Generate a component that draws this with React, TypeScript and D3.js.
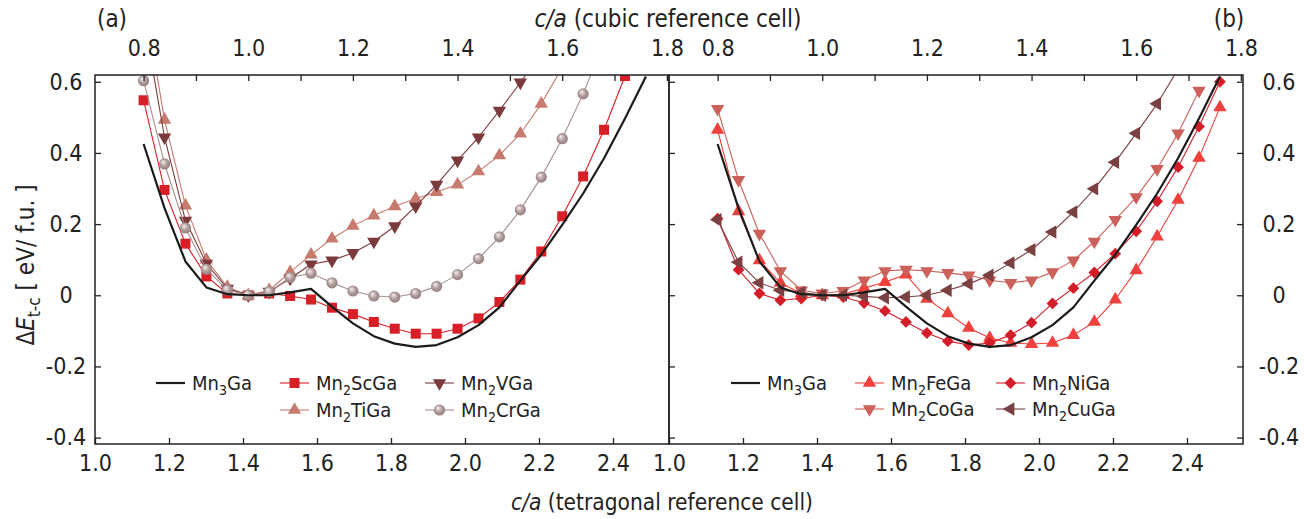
import React, { useRef, useEffect } from 'react';
import * as d3 from 'd3';

// c/a of the cubic reference cell at which each energy was computed
const cubicCA = [0.80, 0.84, 0.88, 0.92, 0.96, 1.00, 1.04, 1.08, 1.12, 1.16, 1.20, 1.24, 1.28,
  1.32, 1.36, 1.40, 1.44, 1.48, 1.52, 1.56, 1.60, 1.64, 1.68, 1.72, 1.76];

// ΔE_t-c in eV/f.u.
const mn3Ga = [0.425, 0.245, 0.095, 0.022, 0.003, 0.0, 0.0, 0.008, 0.018, -0.032, -0.079, -0.115, -0.136,
  -0.145, -0.140, -0.118, -0.084, -0.034, 0.041, 0.114, 0.198, 0.286, 0.385, 0.497, 0.615];
const mn2ScGa = [0.548, 0.296, 0.145, 0.053, 0.005, 0.0, 0.005, -0.002, -0.012, -0.035, -0.053, -0.075, -0.094,
  -0.108, -0.108, -0.094, -0.065, -0.019, 0.044, 0.123, 0.222, 0.334, 0.465, 0.616];
const mn2TiGa = [0.84, 0.493, 0.252, 0.10, 0.023, 0.0, 0.014, 0.065, 0.114, 0.159, 0.195, 0.224, 0.25,
  0.271, 0.29, 0.311, 0.348, 0.393, 0.454, 0.538, 0.64];
const mn2VGa = [0.78, 0.444, 0.21, 0.089, 0.019, 0.0, 0.01, 0.047, 0.087, 0.098, 0.119, 0.151, 0.194,
  0.25, 0.311, 0.379, 0.444, 0.519, 0.598, 0.68];
const mn2CrGa = [0.603, 0.369, 0.189, 0.073, 0.015, 0.0, 0.01, 0.05, 0.062, 0.035, 0.012, -0.002, -0.005,
  0.005, 0.025, 0.058, 0.103, 0.164, 0.24, 0.332, 0.44, 0.566, 0.71];
const mn2FeGa = [0.465, 0.236, 0.098, 0.035, 0.005, 0.0, 0.003, 0.02, 0.037, 0.058, -0.01, -0.051, -0.092,
  -0.12, -0.134, -0.137, -0.134, -0.112, -0.075, -0.012, 0.07, 0.165, 0.268, 0.386, 0.528];
const mn2CoGa = [0.524, 0.324, 0.173, 0.068, 0.014, 0.005, 0.012, 0.042, 0.068, 0.072, 0.068, 0.063, 0.056,
  0.042, 0.035, 0.042, 0.065, 0.098, 0.151, 0.212, 0.276, 0.355, 0.455, 0.575];
const mn2NiGa = [0.215, 0.072, 0.005, -0.014, -0.009, 0.0, -0.005, -0.022, -0.044, -0.075, -0.106, -0.129, -0.14,
  -0.134, -0.112, -0.077, -0.023, 0.02, 0.064, 0.117, 0.18, 0.264, 0.36, 0.474, 0.6];
const mn2CuGa = [0.212, 0.093, 0.035, 0.014, 0.008, 0.0, 0.0, -0.003, -0.007, -0.005, 0.0, 0.014, 0.032,
  0.056, 0.091, 0.128, 0.178, 0.234, 0.299, 0.374, 0.455, 0.538, 0.635];

const tetraTicks = [1.0, 1.2, 1.4, 1.6, 1.8, 2.0, 2.2, 2.4];
const cubicTicks = [0.8, 0.9, 1.0, 1.1, 1.2, 1.3, 1.4, 1.5, 1.6, 1.7, 1.8];
const yTicks = [-0.4, -0.2, 0, 0.2, 0.4, 0.6];

type Marker = 'none' | 'square' | 'up' | 'down' | 'left' | 'diamond' | 'sphere';

interface Series {
  label: [string, string, string];
  values: number[];
  color: string;
  marker: Marker;
}

const leftSeries: Series[] = [
  { label: ['Mn', '2', 'ScGa'], values: mn2ScGa, color: '#d81f27', marker: 'square' },
  { label: ['Mn', '2', 'TiGa'], values: mn2TiGa, color: '#c67b6e', marker: 'up' },
  { label: ['Mn', '2', 'VGa'], values: mn2VGa, color: '#7b3b3c', marker: 'down' },
  { label: ['Mn', '2', 'CrGa'], values: mn2CrGa, color: '#a68f8f', marker: 'sphere' },
];
const rightSeries: Series[] = [
  { label: ['Mn', '2', 'FeGa'], values: mn2FeGa, color: '#ee403c', marker: 'up' },
  { label: ['Mn', '2', 'CoGa'], values: mn2CoGa, color: '#cc615b', marker: 'down' },
  { label: ['Mn', '2', 'NiGa'], values: mn2NiGa, color: '#d31e29', marker: 'diamond' },
  { label: ['Mn', '2', 'CuGa'], values: mn2CuGa, color: '#7a4142', marker: 'left' },
];
const ref: Series = { label: ['Mn', '3', 'Ga'], values: mn3Ga, color: '#1b1b1b', marker: 'none' };

const W = 1304;
const H = 519;
const PT = 75;
const PB = 444;
const TETRA_MAX = 2.5514;
const FONT = "'Liberation Sans Narrow', 'Arial Narrow', 'DejaVu Sans Condensed', sans-serif";
const INK = '#222';

const App: React.FC = () => {
  const svgRef = useRef<SVGSVGElement>(null);

  useEffect(() => {
    if (!svgRef.current) return;
    const svg = d3.select(svgRef.current);
    svg.selectAll('*').remove();

    const defs = svg.append('defs');
    const grad = defs.append('radialGradient').attr('id', 'sphere').attr('cx', '50%').attr('cy', '50%')
      .attr('fx', '35%').attr('fy', '30%').attr('r', '60%');
    grad.append('stop').attr('offset', '0%').attr('stop-color', '#f6f1f1');
    grad.append('stop').attr('offset', '55%').attr('stop-color', '#ad9797');
    grad.append('stop').attr('offset', '100%').attr('stop-color', '#8c7676');

    const y = d3.scaleLinear().domain([-0.418, 0.619]).range([PB, PT]);
    const fmtY = (d: number) => (d === 0 ? '0' : d.toFixed(1));

    const drawMarker = (g: d3.Selection<SVGGElement, unknown, null, undefined>, m: Marker, color: string, cx: number, cy: number) => {
      if (m === 'none') return;
      if (m === 'square') {
        g.append('rect').attr('x', cx - 5).attr('y', cy - 5).attr('width', 10).attr('height', 10).attr('fill', color);
      } else if (m === 'sphere') {
        g.append('circle').attr('cx', cx).attr('cy', cy).attr('r', 5.6).attr('fill', 'url(#sphere)');
      } else if (m === 'diamond') {
        g.append('path').attr('d', d3.symbol(d3.symbolSquare, 70)()!)
          .attr('transform', `translate(${cx},${cy}) rotate(45)`).attr('fill', color);
      } else {
        const rot = m === 'up' ? 0 : m === 'down' ? 180 : -90;
        g.append('path').attr('d', d3.symbol(d3.symbolTriangle, 78)()!)
          .attr('transform', `translate(${cx},${cy}) rotate(${rot})`).attr('fill', color);
      }
    };

    const addLabel = (g: d3.Selection<SVGGElement, unknown, null, undefined>, x: number, yy: number, parts: [string, string, string]) => {
      const t = g.append('text').attr('x', x).attr('y', yy).attr('font-family', FONT).attr('font-size', 20).attr('fill', INK);
      t.append('tspan').text(parts[0]);
      t.append('tspan').attr('font-size', 14).attr('dy', 5).text(parts[1]);
      t.append('tspan').attr('dy', -5).text(parts[2]);
    };

    const panels = [
      { left: 95, right: 669, series: leftSeries, id: 'a' },
      { left: 669, right: 1243, series: rightSeries, id: 'b' },
    ];

    panels.forEach((p, pi) => {
      const xT = d3.scaleLinear().domain([1.0, TETRA_MAX]).range([p.left, p.right]);
      const xC = d3.scaleLinear().domain([1.0 / Math.SQRT2, TETRA_MAX / Math.SQRT2]).range([p.left, p.right]);

      defs.append('clipPath').attr('id', `clip-${p.id}`)
        .append('rect').attr('x', p.left).attr('y', PT).attr('width', p.right - p.left).attr('height', PB - PT);

      const plot = svg.append('g').attr('clip-path', `url(#clip-${p.id})`);
      const drawSeries = (s: Series) => {
        const pts: [number, number][] = s.values.map((v, i) => [xT(cubicCA[i] * Math.SQRT2), y(v)]);
        plot.append('path')
          .attr('d', d3.line()(pts)!)
          .attr('fill', 'none')
          .attr('stroke', s.color)
          .attr('stroke-width', s.marker === 'none' ? 2.2 : 1.1)
          .attr('stroke-linejoin', 'round');
        const mg = plot.append('g');
        pts.forEach(([px, py]) => drawMarker(mg, s.marker, s.color, px, py));
      };
      p.series.forEach(drawSeries);
      drawSeries(ref);

      // frame
      svg.append('rect').attr('x', p.left).attr('y', PT).attr('width', p.right - p.left).attr('height', PB - PT)
        .attr('fill', 'none').attr('stroke', INK).attr('stroke-width', 1.5);

      // bottom axis (tetragonal)
      const bottom = svg.append('g').attr('transform', `translate(0,${PB})`)
        .call(d3.axisBottom(xT).tickValues(tetraTicks).tickSizeInner(-6).tickSizeOuter(0).tickPadding(11)
          .tickFormat(d3.format('.1f')));
      bottom.select('.domain').remove();
      bottom.attr('font-family', FONT).attr('font-size', 23);
      bottom.selectAll('line').attr('stroke', INK).attr('stroke-width', 1.3);
      bottom.selectAll('text').attr('fill', INK);

      // top axis (cubic)
      const top = svg.append('g').attr('transform', `translate(0,${PT})`)
        .call(d3.axisTop(xC).tickValues(cubicTicks).tickSizeInner(-6).tickSizeOuter(0).tickPadding(19.5)
          .tickFormat((d) => (Math.round(+d * 10) % 2 === 0 ? (+d).toFixed(1) : '')));
      top.select('.domain').remove();
      top.attr('font-family', FONT).attr('font-size', 23);
      top.selectAll('line').attr('stroke', INK).attr('stroke-width', 1.3);
      top.selectAll('text').attr('fill', INK);

      // y axis ticks
      if (pi === 0) {
        const la = svg.append('g').attr('transform', `translate(${p.left},0)`)
          .call(d3.axisLeft(y).tickValues(yTicks).tickSizeInner(-6).tickSizeOuter(0).tickFormat((d) => fmtY(+d)));
        la.select('.domain').remove();
        la.attr('font-family', FONT).attr('font-size', 23);
        la.selectAll('line').attr('stroke', INK).attr('stroke-width', 1.3);
        la.selectAll('text').attr('fill', INK).attr('text-anchor', 'middle').attr('x', -29);
      } else {
        const li = svg.append('g').attr('transform', `translate(${p.left},0)`)
          .call(d3.axisRight(y).tickValues(yTicks).tickSize(6).tickFormat(() => ''));
        li.select('.domain').remove();
        li.selectAll('line').attr('stroke', INK).attr('stroke-width', 1.3);
        const ra = svg.append('g').attr('transform', `translate(${p.right},0)`)
          .call(d3.axisRight(y).tickValues(yTicks).tickSizeInner(-6).tickSizeOuter(0).tickFormat((d) => fmtY(+d)));
        ra.select('.domain').remove();
        ra.attr('font-family', FONT).attr('font-size', 23);
        ra.selectAll('line').attr('stroke', INK).attr('stroke-width', 1.3);
        ra.selectAll('text').attr('fill', INK).attr('text-anchor', 'middle').attr('x', 36);
      }
    });

    // legends
    const legend = svg.append('g');
    const legendItems: { s: Series; x: number; y: number }[] = [
      { s: ref, x: 156, y: 383 },
      { s: leftSeries[0], x: 280, y: 383 },
      { s: leftSeries[2], x: 425, y: 383 },
      { s: leftSeries[1], x: 280, y: 410 },
      { s: leftSeries[3], x: 425, y: 410 },
      { s: ref, x: 731, y: 383 },
      { s: rightSeries[0], x: 855, y: 383 },
      { s: rightSeries[2], x: 996, y: 383 },
      { s: rightSeries[1], x: 855, y: 409 },
      { s: rightSeries[3], x: 996, y: 409 },
    ];
    legendItems.forEach(({ s, x, y: ly }) => {
      legend.append('line').attr('x1', x).attr('x2', x + 29).attr('y1', ly).attr('y2', ly)
        .attr('stroke', s.color).attr('stroke-width', s.marker === 'none' ? 2.2 : 1.1);
      drawMarker(legend, s.marker, s.color, x + 14.5, ly);
      addLabel(legend, x + 36, ly + 7, s.label);
    });

    // titles
    const txt = (x: number, yy: number, anchor: string, size: number) =>
      svg.append('text').attr('x', x).attr('y', yy).attr('text-anchor', anchor)
        .attr('font-family', FONT).attr('font-size', size).attr('fill', INK);

    txt(112, 27, 'middle', 24).text('(a)');
    txt(1229, 27, 'middle', 24).text('(b)');

    const topTitle = txt(668, 27, 'middle', 24);
    topTitle.append('tspan').attr('font-style', 'italic').text('c/a');
    topTitle.append('tspan').text(' (cubic reference cell)');

    const bottomTitle = txt(662, 510, 'middle', 22.5);
    bottomTitle.append('tspan').attr('font-style', 'italic').text('c/a');
    bottomTitle.append('tspan').text(' (tetragonal reference cell)');

    const yLabel = svg.append('text').attr('transform', 'translate(34,265) rotate(-90)').attr('text-anchor', 'middle')
      .attr('font-family', FONT).attr('font-size', 24).attr('fill', INK);
    yLabel.append('tspan').text('Δ');
    yLabel.append('tspan').attr('font-style', 'italic').text('E');
    yLabel.append('tspan').attr('font-size', 17).attr('dy', 6).text('t-c');
    yLabel.append('tspan').attr('dy', -6).text(' [ eV/ f.u. ]');
  }, []);

  return (
    <svg
      ref={svgRef}
      width={W}
      height={H}
      style={{ position: 'absolute', left: 0, top: 0, background: '#fff' }}
    />
  );
};

export default App;
